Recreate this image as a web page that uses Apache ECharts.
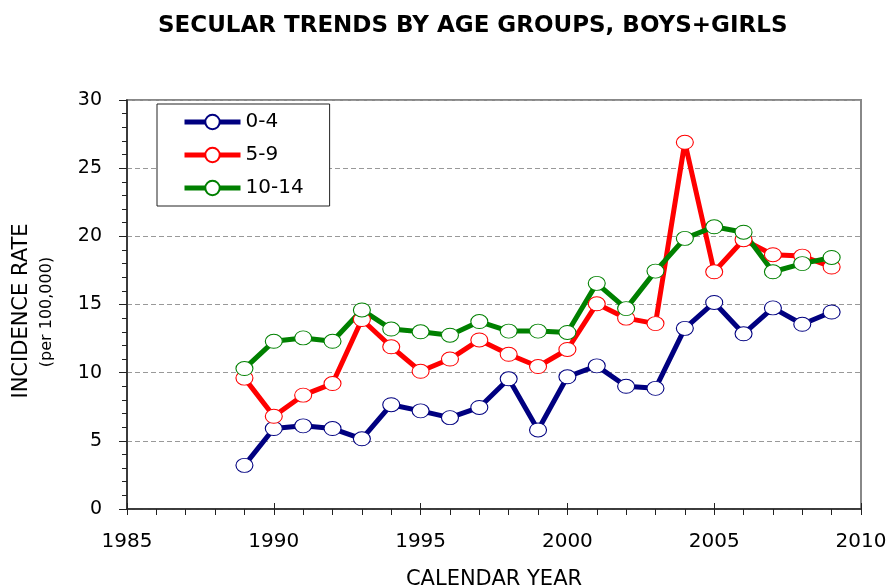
<!DOCTYPE html>
<html>
<head>
<meta charset="utf-8">
<script src="https://cdn.jsdelivr.net/npm/echarts@6/dist/echarts.min.js"></script>
<style>
  html, body { margin: 0; padding: 0; background: #fff; }
  #chart { width: 893px; height: 588px; }
</style>
</head>
<body>
<div id="chart"></div>
<script>
// calendar years and incidence rates per 100,000
const years = [1989, 1990, 1991, 1992, 1993, 1994, 1995, 1996, 1997, 1998, 1999,
  2000, 2001, 2002, 2003, 2004, 2005, 2006, 2007, 2008, 2009]
const age0to4 = [3.2, 5.9, 6.1, 5.9, 5.15, 7.65, 7.2, 6.7, 7.45, 9.55, 5.8,
  9.7, 10.5, 9.0, 8.85, 13.25, 15.15, 12.85, 14.75, 13.55, 14.45]
const age5to9 = [9.6, 6.8, 8.35, 9.2, 13.9, 11.9, 10.1, 11.0, 12.4, 11.35, 10.45,
  11.7, 15.05, 14.0, 13.6, 26.9, 17.4, 19.75, 18.65, 18.55, 17.75]
const age10to14 = [10.3, 12.3, 12.55, 12.3, 14.6, 13.2, 13.0, 12.75, 13.75, 13.05, 13.05,
  12.95, 16.55, 14.7, 17.45, 19.85, 20.7, 20.3, 17.4, 18.0, 18.45]

const groupNames = ['0-4', '5-9', '10-14']
const groupColors = ['#000080', '#ff0000', '#008000']
const groupValues = [age0to4, age5to9, age10to14]

const font = 'DejaVu Sans'

function makeSeries(i) {
  return {
    name: groupNames[i],
    type: 'line',
    data: years.map((y, k) => [y, groupValues[i][k]]),
    symbol: 'circle',
    symbolSize: [17, 14],
    showAllSymbol: true,
    lineStyle: { color: groupColors[i], width: 5 },
    itemStyle: { color: '#fff', borderColor: groupColors[i], borderWidth: 1 },
    emphasis: { disabled: true },
    animation: false
  }
}

const chart = echarts.init(document.getElementById('chart'))
chart.setOption({
  backgroundColor: '#fff',
  animation: false,
  title: {
    text: 'SECULAR TRENDS BY AGE GROUPS, BOYS+GIRLS',
    left: 158,
    top: 15,
    padding: 0,
    textStyle: { fontFamily: font, fontWeight: 'bold', fontSize: 23, color: '#000' }
  },
  legend: {
    orient: 'vertical',
    left: 157,
    top: 104,
    padding: [8, 26, 8, 25],
    itemGap: 13,
    itemWidth: 56,
    itemHeight: 18,
    backgroundColor: '#fff',
    borderColor: '#222',
    borderWidth: 1,
    lineStyle: { width: 5 },
    textStyle: { fontFamily: font, fontSize: 20, color: '#000' },
    data: groupNames
  },
  grid: {
    left: 127,
    right: 32,
    top: 100,
    bottom: 79,
    outerBoundsMode: 'none',
    show: true,
    borderColor: '#888',
    borderWidth: 2
  },
  xAxis: [{
    type: 'value',
    min: 1985,
    max: 2010,
    interval: 5,
    name: 'CALENDAR YEAR',
    nameLocation: 'middle',
    nameGap: 60,
    nameTextStyle: { fontFamily: font, fontSize: 21, color: '#000' },
    axisLine: { show: true, lineStyle: { color: '#222', width: 1.5 } },
    axisTick: { show: true, length: 6, lineStyle: { color: '#222' } },
    minorTick: { show: true, splitNumber: 5, length: 6, lineStyle: { color: '#222' } },
    axisLabel: {
      margin: 23,
      fontFamily: font,
      fontSize: 20,
      color: '#000',
      formatter: v => String(v)
    },
    splitLine: { show: false }
  }, {
    // inner half of the major year ticks
    type: 'value',
    position: 'bottom',
    min: 1985,
    max: 2010,
    interval: 5,
    axisLine: { show: false },
    axisTick: { show: true, inside: true, length: 6, lineStyle: { color: '#222' } },
    axisLabel: { show: false },
    splitLine: { show: false }
  }],
  yAxis: {
    type: 'value',
    min: 0,
    max: 30,
    interval: 5,
    axisLine: { show: true, lineStyle: { color: '#222', width: 1.5 } },
    axisTick: { show: true, length: 8, lineStyle: { color: '#222' } },
    minorTick: { show: true, splitNumber: 5, length: 5, lineStyle: { color: '#222' } },
    axisLabel: { margin: 25, fontFamily: font, fontSize: 19, color: '#000' },
    splitLine: { show: true, lineStyle: { color: '#999', width: 1, type: [5, 3] } }
  },
  graphic: [{
    type: 'text',
    x: 22,
    y: 311,
    rotation: Math.PI / 2,
    style: {
      text: 'INCIDENCE RATE',
      fontFamily: font,
      fontSize: 21,
      fill: '#000',
      align: 'center',
      verticalAlign: 'middle',
      textAlign: 'center',
      textVerticalAlign: 'middle'
    }
  }, {
    type: 'text',
    x: 47,
    y: 312,
    rotation: Math.PI / 2,
    style: {
      text: '(per 100,000)',
      fontFamily: font,
      fontSize: 16,
      fill: '#000',
      align: 'center',
      verticalAlign: 'middle',
      textAlign: 'center',
      textVerticalAlign: 'middle'
    }
  }],
  series: [makeSeries(0), makeSeries(1), makeSeries(2)]
})
</script>
</body>
</html>
